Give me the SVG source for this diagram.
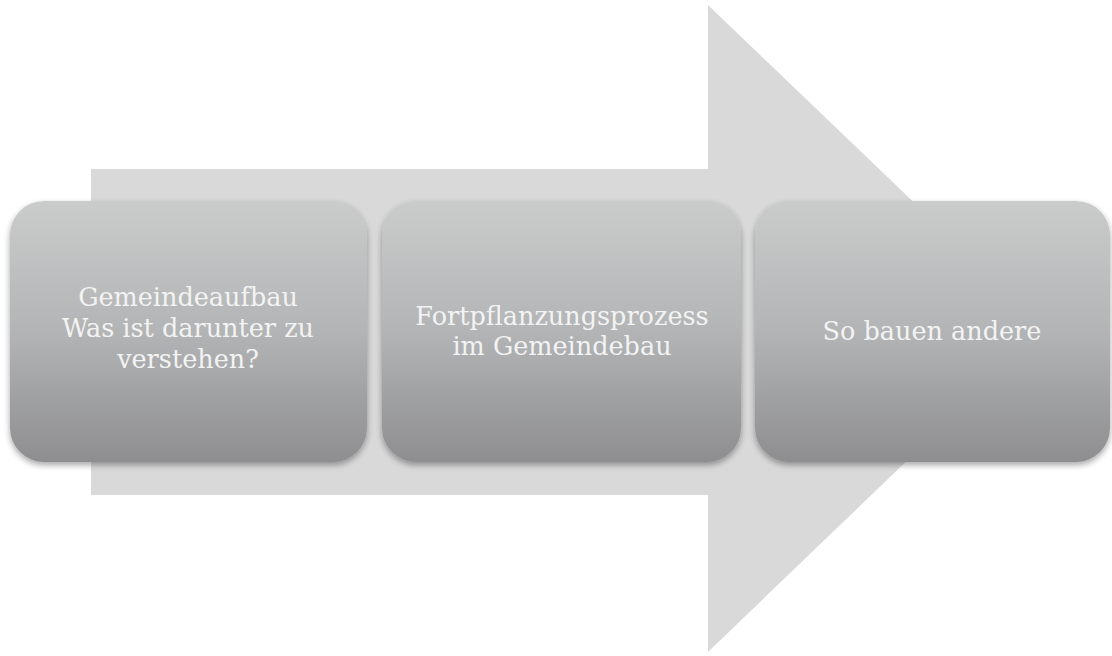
<svg xmlns="http://www.w3.org/2000/svg" width="1112" height="656" viewBox="0 0 1112 656">
<defs>
<linearGradient id="g" x1="0" y1="0" x2="0" y2="1">
<stop offset="0" stop-color="#cacbcb"/>
<stop offset="0.5" stop-color="#b3b4b5"/>
<stop offset="1" stop-color="#8e8e90"/>
</linearGradient>
<filter id="sh" x="-10%" y="-10%" width="120%" height="125%">
<feGaussianBlur in="SourceAlpha" stdDeviation="3"/>
<feOffset dy="3"/>
<feComponentTransfer><feFuncA type="linear" slope="0.35"/></feComponentTransfer>
<feMerge><feMergeNode/><feMergeNode in="SourceGraphic"/></feMerge>
</filter>
<style>
.box{fill:url(#g);filter:url(#sh);}
.t{font-family:"DejaVu Serif","Liberation Serif",serif;font-size:25.5px;fill:#f3f3f3;text-anchor:middle;}
</style>
</defs>
<rect width="1112" height="656" fill="#ffffff"/>
<g id="connectors">
<polygon points="91,169 708,169 708,5 1045,328 708,652 708,495 91,495" fill="#d9d9d9"/>
</g>
<g id="node1">
<rect class="box" x="10" y="201" width="357" height="261" rx="34"/>
<text class="t" x="188" y="306">Gemeindeaufbau</text>
<text class="t" x="188" y="337">Was ist darunter zu</text>
<text class="t" x="188" y="368">verstehen?</text>
</g>
<g id="node2">
<rect class="box" x="382" y="201" width="359" height="261" rx="34"/>
<text class="t" x="562" y="325">Fortpflanzungsprozess</text>
<text class="t" x="562" y="355">im Gemeindebau</text>
</g>
<g id="node3">
<rect class="box" x="755" y="201" width="355" height="261" rx="34"/>
<text class="t" x="932" y="340">So bauen andere</text>
</g>
</svg>
